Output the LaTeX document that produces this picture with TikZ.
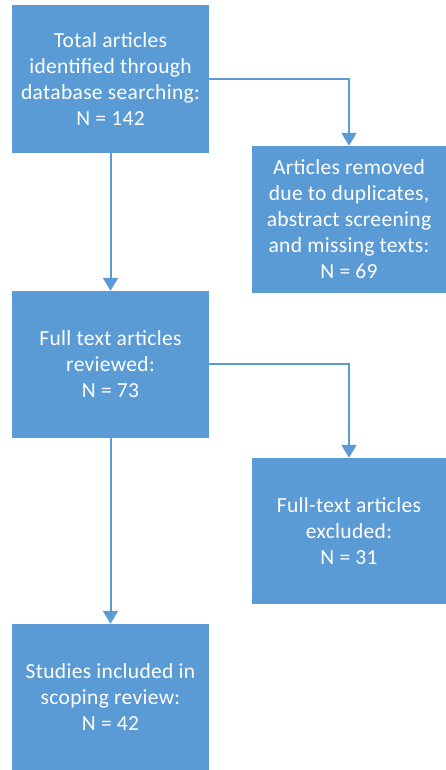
\documentclass[tikz,border=0pt]{standalone}
\usepackage{fontspec}
\setmainfont{Carlito}[LetterSpace=1.5]
\usetikzlibrary{arrows.meta}
\definecolor{boxblue}{HTML}{5B9BD5}
\tikzset{
  flowbox/.style={rectangle, fill=boxblue, draw=none, text=white, align=center,
    inner sep=0pt, font=\fontsize{21.5}{26}\selectfont},
  flowarrow/.style={draw=boxblue, line width=2pt,
    -{Triangle[width=15pt,length=13pt]}}
}
\begin{document}
\begin{tikzpicture}[x=1pt,y=1pt]
\useasboundingbox (0,0) rectangle (446,770);
\fill[white] (0,0) rectangle (446,770);
\node[flowbox, minimum width=197pt, minimum height=148pt] (b1) at (110.5,691)
  {Total articles\\identified through\\database searching:\\N = 142};
\node[flowbox, minimum width=194pt, minimum height=147pt] (b2) at (349,550.5)
  {Articles removed\\due to duplicates,\\abstract screening\\and missing texts:\\N = 69};
\node[flowbox, minimum width=197pt, minimum height=147pt] (b3) at (110.5,405.5)
  {Full text articles\\reviewed:\\N = 73};
\node[flowbox, minimum width=194pt, minimum height=146pt] (b4) at (349,239)
  {Full-text articles\\excluded:\\N = 31};
\node[flowbox, minimum width=197pt, minimum height=146pt] (b5) at (110.5,73)
  {Studies included in\\scoping review:\\N = 42};
\draw[flowarrow] (b1.south) -- (b3.north);
\draw[flowarrow] (b3.south) -- (b5.north);
\draw[flowarrow] (b1.east) -| (b2.north);
\draw[flowarrow] (b3.east) -| (b4.north);
\end{tikzpicture}
\end{document}
